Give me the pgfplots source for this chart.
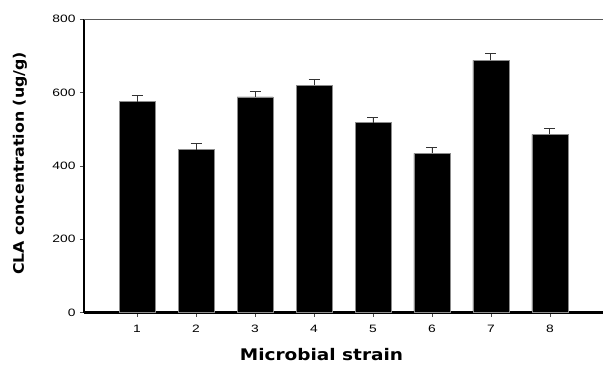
\documentclass[border=0pt]{standalone}
\usepackage{fontspec}
\setmainfont{Liberation Sans}
\newfontfamily\labelfont{DejaVu Sans}
\usepackage{graphicx}
\usepackage{pgfplots}
\pgfplotsset{compat=1.18}
\begin{document}
\begin{tikzpicture}
\begin{axis}[
  at={(0,0)}, anchor=south west,
  scale only axis,
  width=519bp, height=293.7bp,
  xmin=0.1, xmax=8.9,
  ymin=0, ymax=800,
  ytick={0,200,400,600,800},
  xtick={1,2,3,4,5,6,7,8},
  axis x line*=bottom,
  axis y line*=left,
  x axis line style={-, line width=2.6bp, black},
  y axis line style={-, line width=2.6bp, black},
  tick align=outside,
  major tick length=4bp,
  tick style={black!70, line width=0.6bp},
  /pgf/number format/assume math mode=true,
  yticklabel={\fontsize{10.7bp}{12bp}\selectfont\scalebox{1.29}[1]{\pgfmathprintnumber{\tick}}},
  xticklabel={\fontsize{10.7bp}{12bp}\selectfont\scalebox{1.29}[1]{\pgfmathprintnumber{\tick}}},
  yticklabel style={xshift=-1bp},
  xticklabel style={yshift=-5bp},
  ylabel={\labelfont\bfseries\fontsize{14.5bp}{16bp}\selectfont\scalebox{1.09}[1]{CLA concentration (ug/g)}},
  ylabel style={at={(axis description cs:-0.1233,0.508)}, anchor=center},
  xlabel={\labelfont\bfseries\fontsize{16bp}{18bp}\selectfont\scalebox{1.155}[1]{Microbial strain}},
  xlabel style={at={(axis description cs:0.4576,-0.144)}, anchor=center},
  clip=false,
]
\draw[black!65, line width=0.9bp] (rel axis cs:0,1) -- (rel axis cs:1,1);
\addplot[ybar, bar width=0.61, fill=black, draw=black!45, line width=0.6bp,
  error bars/.cd, y dir=plus, y explicit,
  error bar style={line width=0.9bp, black!80},
  error mark options={rotate=90, mark size=5.5bp, line width=0.9bp, black!80}]
  coordinates {
  (1,575) +- (0,16)
  (2,444) +- (0,16)
  (3,588) +- (0,14)
  (4,620) +- (0,16)
  (5,518) +- (0,14)
  (6,434) +- (0,16)
  (7,687) +- (0,18)
  (8,486) +- (0,15)
  };
\end{axis}
\pgfresetboundingbox
\path[use as bounding box] ([shift={(-84bp,-52.3bp)}]current axis.south west) rectangle ([shift={(0bp,19bp)}]current axis.north east);
\end{tikzpicture}
\end{document}
